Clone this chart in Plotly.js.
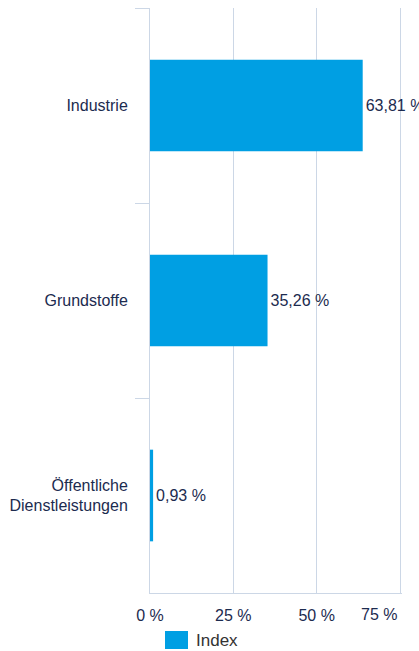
<!DOCTYPE html>
<html>
<head>
<meta charset="utf-8">
<script src="https://cdn.plot.ly/plotly-3.0.1.min.js"></script>
<style>html,body{margin:0;padding:0;background:#fff;}#chart{width:419px;height:651px;}</style>
</head>
<body>
<div id="chart"></div>
<script>
var categories = ["Industrie", "Grundstoffe", "Öffentliche<br>Dienstleistungen"];
var values = [63.81, 35.26, 0.93];
var valueLabels = ["63,81 %", "35,26 %", "0,93 %"];
var tickValues = [0, 25, 50, 75];
var tickLabels = ["0 %", "25 %", "50 %", "75 %"];
var seriesName = "Index";

var barColor = "#009fe3";
var navy = "#1c2b4f";
var gridColor = "#ccd7e6";
var fontFamily = "Liberation Sans, Arial, sans-serif";

var trace = {
  type: "bar",
  orientation: "h",
  y: categories,
  x: values,
  name: seriesName,
  text: valueLabels,
  textposition: "outside",
  cliponaxis: false,
  textfont: {family: fontFamily, size: 16, color: navy},
  marker: {color: barColor},
  width: 0.47,
  showlegend: false,
  hoverinfo: "none"
};

// last tick label is right-justified inside the chart (drawn as annotation)
var lastIdx = tickLabels.length - 1;
var shownTickText = tickLabels.map(function (t, i) { return i === lastIdx ? "" : t; });

var layout = {
  width: 419,
  height: 651,
  margin: {l: 150, r: 17, t: 8, b: 58},
  paper_bgcolor: "#fff",
  plot_bgcolor: "#fff",
  font: {family: fontFamily, size: 16, color: navy},
  xaxis: {
    range: [0, 75.6],
    tickvals: tickValues,
    ticktext: shownTickText,
    showgrid: true,
    gridcolor: gridColor,
    gridwidth: 1,
    zeroline: false,
    showline: true,
    linecolor: gridColor,
    linewidth: 1,
    ticks: "",
    ticklabelstandoff: 8,
    tickfont: {family: fontFamily, size: 16, color: navy},
    fixedrange: true
  },
  yaxis: {
    type: "category",
    categoryorder: "array",
    categoryarray: categories,
    autorange: "reversed",
    showgrid: false,
    zeroline: false,
    showline: true,
    linecolor: gridColor,
    ticks: "outside",
    tickson: "boundaries",
    ticklen: 14,
    tickcolor: gridColor,
    tickwidth: 1,
    ticklabelstandoff: 18,
    tickfont: {family: fontFamily, size: 16, color: navy},
    fixedrange: true
  },
  shapes: [{
    type: "rect", xref: "paper", yref: "paper",
    x0: (165 - 150) / 252, x1: (188 - 150) / 252,
    y0: -(649 - 593) / 585, y1: -(631 - 593) / 585,
    fillcolor: barColor, line: {width: 0}
  }],
  annotations: [{
    xref: "paper", yref: "paper",
    x: (194 - 150) / 252, y: -(640 - 593) / 585,
    xanchor: "left", yanchor: "middle",
    text: seriesName, showarrow: false,
    font: {family: fontFamily, size: 17, color: "#333333"}
  }, {
    xref: "x", yref: "paper",
    x: tickValues[lastIdx], y: -(614 - 593) / 585,
    xanchor: "right", yanchor: "middle", xshift: -1,
    text: tickLabels[lastIdx], showarrow: false,
    font: {family: fontFamily, size: 16, color: navy}
  }],
  showlegend: false
};

Plotly.newPlot("chart", [trace], layout, {displayModeBar: false, staticPlot: true});
</script>
</body>
</html>
